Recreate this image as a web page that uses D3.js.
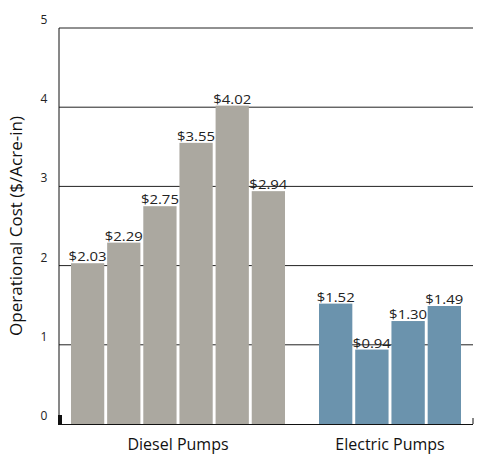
<!DOCTYPE html>
<html><head><meta charset="utf-8">
<script src="https://cdn.jsdelivr.net/npm/d3@7"></script>
<style>body{margin:0;background:#fff}text{font-family:"Open Sans",sans-serif}</style>
</head><body><svg width="479" height="472"></svg>
<script>
const groups = ["Diesel Pumps", "Electric Pumps"];
const dieselValues = [2.03, 2.29, 2.75, 3.55, 4.02, 2.94];
const electricValues = [1.52, 0.94, 1.30, 1.49];
const yTicks = [0, 1, 2, 3, 4, 5];
const colors = ["#aba8a0", "#6b93ad"];

const svg = d3.select("svg");
const mLeft = 59, mRight = 473, mTop = 28, mBottom = 424;
const y = d3.scaleLinear().domain([0, 5]).range([mBottom, mTop]);

// gridlines
svg.selectAll("line.grid").data(yTicks.slice(1)).enter().append("line")
  .attr("x1", mLeft).attr("x2", mRight).attr("y1", d => y(d)).attr("y2", d => y(d))
  .attr("stroke", "#222").attr("stroke-width", 1);
svg.selectAll("text.tick").data(yTicks).enter().append("text")
  .attr("x", 44).attr("y", d => y(d) - 4).attr("text-anchor", "middle")
  .attr("font-size", 12).attr("fill", "#222").text(d => d);

const groupRanges = [[71, 285], [319, 461]];
const data = [dieselValues, electricValues];
data.forEach((vals, g) => {
  const x = d3.scaleBand().domain(d3.range(vals.length)).range(groupRanges[g]).paddingInner(0.08);
  const gg = svg.append("g");
  gg.selectAll("rect").data(vals).enter().append("rect")
    .attr("x", (d, i) => x(i)).attr("width", x.bandwidth())
    .attr("y", d => y(d)).attr("height", d => mBottom - y(d)).attr("fill", colors[g]);
  gg.selectAll("text").data(vals).enter().append("text")
    .attr("x", (d, i) => x(i) + x.bandwidth() / 2).attr("y", d => y(d) - 2)
    .attr("text-anchor", "middle").attr("font-size", 13).attr("fill", "#222")
    .attr("textLength", 38).attr("lengthAdjust", "spacingAndGlyphs")
    .text(d => "$" + d.toFixed(2));
  svg.append("text").attr("x", (groupRanges[g][0] + groupRanges[g][1]) / 2).attr("y", 450)
    .attr("text-anchor", "middle").attr("font-size", 16).attr("fill", "#111").text(groups[g]);
});

// axes
svg.append("line").attr("x1", mLeft).attr("x2", mLeft).attr("y1", mTop).attr("y2", mBottom).attr("stroke", "#111");
svg.append("line").attr("x1", mLeft).attr("x2", mRight).attr("y1", mBottom + 0.5).attr("y2", mBottom + 0.5).attr("stroke", "#111");
svg.append("line").attr("x1", mRight).attr("x2", mRight).attr("y1", mBottom - 6).attr("y2", mBottom).attr("stroke", "#111");
svg.append("rect").attr("x", 58).attr("y", mBottom - 9).attr("width", 4).attr("height", 10).attr("fill", "#111");

svg.append("text").attr("transform", `translate(22,${(mTop + mBottom) / 2}) rotate(-90)`)
  .attr("text-anchor", "middle").attr("font-size", 17).attr("fill", "#111")
  .text("Operational Cost ($/Acre-in)");
</script></body></html>
